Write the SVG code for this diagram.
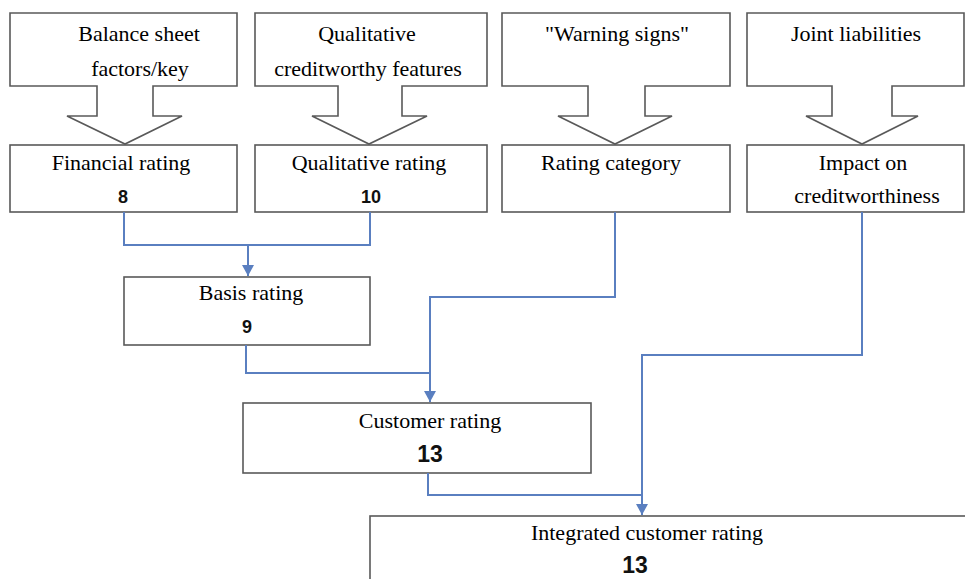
<svg xmlns="http://www.w3.org/2000/svg" width="965" height="579" viewBox="0 0 965 579">
<style>
.box{fill:#fff;stroke:#595959;stroke-width:1.6}
.t{font-family:"Liberation Serif","DejaVu Serif",serif;font-size:22px;fill:#000;text-anchor:middle}
.n{font-family:"Liberation Sans","DejaVu Sans",sans-serif;font-weight:bold;font-size:18px;fill:#111;text-anchor:middle}
.nb{font-family:"Liberation Sans","DejaVu Sans",sans-serif;font-weight:bold;font-size:23px;fill:#111;text-anchor:middle}
.c{fill:none;stroke:#5a7fc0;stroke-width:2}
</style>
<defs>
<marker id="ah" markerWidth="11" markerHeight="12" refX="11" refY="6" orient="auto" markerUnits="userSpaceOnUse" viewBox="0 0 11 12">
<path d="M0,0 L11,6 L0,12 Z" fill="#5a7fc0"/>
</marker>
</defs>
<rect width="965" height="579" fill="#fff"/>
<g id="input1">
<path class="box" d="M10,13 H237 V86 H153 V116 H182 L125,144 L67,116 H97 V86 H10 Z"/>
<text class="t" x="139" y="41">Balance sheet</text>
<text class="t" x="140" y="76">factors/key</text>
</g>
<g id="input2">
<path class="box" d="M255,13 H487 V86 H402 V116 H427 L369,144 L312,116 H338 V86 H255 Z"/>
<text class="t" x="367" y="41">Qualitative</text>
<text class="t" x="368" y="76">creditworthy features</text>
</g>
<g id="input3">
<path class="box" d="M502,13 H730 V86 H645 V116 H672 L615,144 L558,116 H588 V86 H502 Z"/>
<text class="t" x="617" y="41">"Warning signs"</text>
</g>
<g id="input4">
<path class="box" d="M747,13 H964 V86 H892 V116 H918 L862,144 L806,116 H832 V86 H747 Z"/>
<text class="t" x="856" y="41">Joint liabilities</text>
</g>
<g id="financial">
<rect class="box" x="10" y="145" width="227" height="67"/>
<text class="t" x="121" y="170">Financial rating</text>
<text class="n" x="123" y="203">8</text>
</g>
<g id="qualitative">
<rect class="box" x="255" y="145" width="232" height="67"/>
<text class="t" x="369" y="170">Qualitative rating</text>
<text class="n" x="371" y="203">10</text>
</g>
<g id="category">
<rect class="box" x="502" y="145" width="228" height="67"/>
<text class="t" x="611" y="170">Rating category</text>
</g>
<g id="impact">
<rect class="box" x="747" y="145" width="217" height="67"/>
<text class="t" x="863" y="170">Impact on</text>
<text class="t" x="867" y="203">creditworthiness</text>
</g>
<g id="basis">
<rect class="box" x="124" y="277" width="246" height="68"/>
<text class="t" x="251" y="300">Basis rating</text>
<text class="n" x="247" y="333">9</text>
</g>
<g id="customer">
<rect class="box" x="243" y="403" width="348" height="70"/>
<text class="t" x="430" y="428">Customer rating</text>
<text class="nb" x="430" y="462">13</text>
</g>
<g id="integrated">
<rect class="box" x="370" y="516" width="600" height="80"/>
<text class="t" x="647" y="540">Integrated customer rating</text>
<text class="nb" x="635" y="573">13</text>
</g>
<g id="connectors">
<path class="c" d="M124,212 V245 H370 V212"/>
<path class="c" d="M248,245 V276" marker-end="url(#ah)"/>
<path class="c" d="M246,345 V373 H430"/>
<path class="c" d="M615,212 V297 H430 V402" marker-end="url(#ah)"/>
<path class="c" d="M428,473 V495 H642"/>
<path class="c" d="M862,212 V355 H642 V515" marker-end="url(#ah)"/>
</g>
</svg>
